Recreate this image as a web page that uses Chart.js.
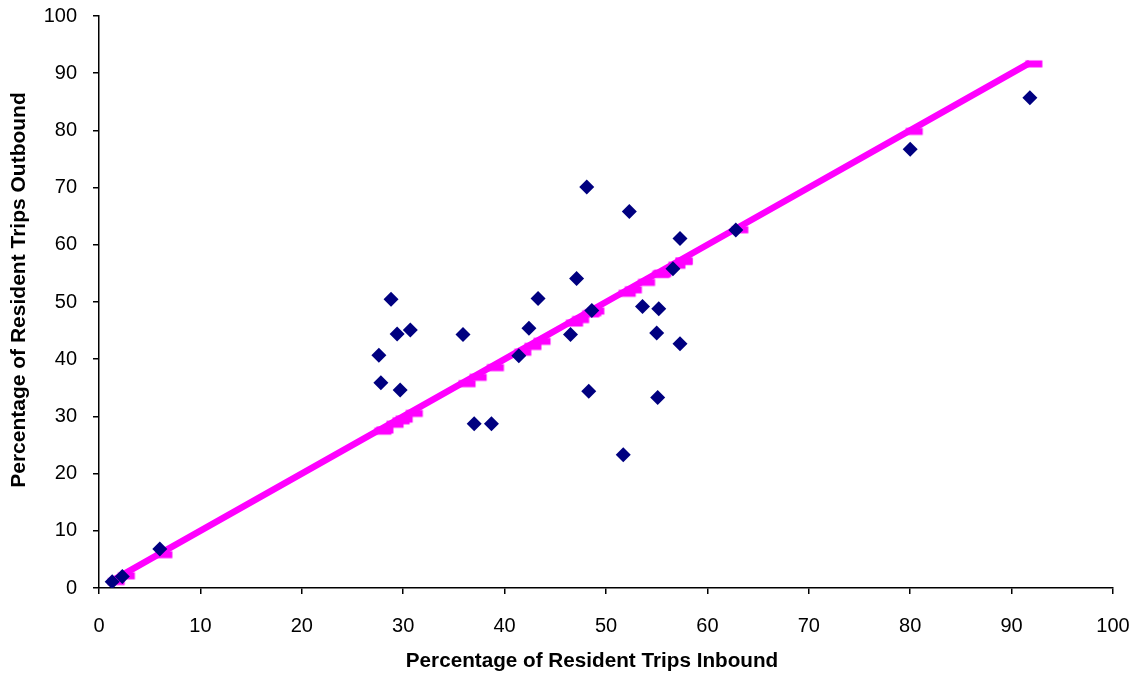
<!DOCTYPE html>
<html>
<head>
<meta charset="utf-8">
<title>Resident Trips Inbound vs Outbound</title>
<script src="https://cdn.jsdelivr.net/npm/chart.js@4/dist/chart.umd.min.js"></script>
<style>
  html, body { margin: 0; padding: 0; background: #fff; }
  #wrap { width: 1143px; height: 677px; }
</style>
</head>
<body>
<div id="wrap"><canvas id="tripChart"></canvas></div>
<script>
// Observed points (percent)
const inbound = [1.3, 2.3, 6.0, 28.8, 29.4, 30.7, 35.9, 27.6, 27.8, 29.7, 37.0, 38.7,
  48.1, 52.3, 57.3, 56.6, 47.1, 43.3, 48.6, 53.6, 55.2, 42.4, 46.5, 55.0, 57.3,
  41.4, 48.3, 55.1, 51.7, 62.8, 80.0, 91.8];
const outbound = [1.1, 2.0, 6.8, 50.5, 44.4, 45.1, 44.3, 40.7, 35.9, 34.6, 28.7, 28.7,
  70.1, 65.8, 61.1, 55.8, 54.1, 50.6, 48.5, 49.2, 48.8, 45.4, 44.3, 44.6, 42.7,
  40.6, 34.4, 33.3, 23.3, 62.6, 76.7, 85.7];

// Equal-share line (inbound = outbound)
const lineInbound = [1.3, 2.3, 6.0, 27.6, 27.8, 28.8, 29.4, 29.7, 30.7, 35.9, 37.0, 38.7,
  41.4, 42.4, 43.3, 46.5, 47.1, 48.1, 48.3, 48.6, 51.7, 52.3, 53.6, 55.0, 55.1,
  55.2, 56.6, 57.3, 57.3, 62.8, 80.0, 91.8];
const lineOutbound = [1.3, 2.3, 6.0, 27.6, 27.8, 28.8, 29.4, 29.7, 30.7, 35.9, 37.0, 38.7,
  41.4, 42.4, 43.3, 46.5, 47.1, 48.1, 48.3, 48.6, 51.7, 52.3, 53.6, 55.0, 55.1,
  55.2, 56.6, 57.3, 57.3, 62.8, 80.0, 91.8];

const xTicks = [0, 10, 20, 30, 40, 50, 60, 70, 80, 90, 100];
const yTicks = [0, 10, 20, 30, 40, 50, 60, 70, 80, 90, 100];

const xTitle = "Percentage of Resident Trips Inbound";
const yTitle = "Percentage of Resident Trips Outbound";

const FONT = "'Liberation Sans', Arial, sans-serif";

// Excel-ish dash marker, sits a little below/right of the point
function dashMarker() {
  const c = document.createElement("canvas");
  c.width = 34;
  c.height = 18;
  const g = c.getContext("2d");
  g.fillStyle = "#ff00ff";
  g.fillRect(17 + 4 - 8.5, 9 + 1 - 3.5, 17, 7);
  return c;
}

// axis titles drawn by hand so they sit where Excel put them
const titlePlugin = {
  id: "titles",
  afterDraw(chart) {
    const ctx = chart.ctx;
    ctx.save();
    ctx.fillStyle = "#000";
    ctx.font = "bold 20.7px " + FONT;
    ctx.textAlign = "center";
    ctx.textBaseline = "middle";
    ctx.fillText(xTitle, 592, 661);
    ctx.font = "bold 21px " + FONT;
    ctx.translate(19, 290);
    ctx.rotate(-Math.PI / 2);
    ctx.fillText(yTitle, 0, 0);
    ctx.restore();
  }
};

function toPoints(xs, ys) {
  return xs.map((x, i) => ({ x: x, y: ys[i] }));
}

function axis(ticks, extra) {
  return Object.assign({
    type: "linear",
    min: ticks[0],
    max: ticks[ticks.length - 1],
    afterBuildTicks: s => { s.ticks = ticks.map(v => ({ value: v })); },
    grid: { drawOnChartArea: false, drawTicks: true, tickLength: 6, color: "#000", lineWidth: 1.5 },
    border: { display: true, color: "#000", width: 1.5 }
  }, extra);
}

const ctx = document.getElementById("tripChart").getContext("2d");
new Chart(ctx, {
  type: "scatter",
  data: {
    datasets: [
      {
        label: "Observed",
        data: toPoints(inbound, outbound),
        pointStyle: "rectRot",
        pointRadius: 7.5,
        pointBackgroundColor: "#000080",
        pointBorderColor: "#000080",
        pointBorderWidth: 0,
        showLine: false
      },
      {
        label: "Equal share",
        data: toPoints(lineInbound, lineOutbound),
        showLine: true,
        borderColor: "#ff00ff",
        borderWidth: 6.5,
        pointStyle: dashMarker(),
        pointRadius: 8
      }
    ]
  },
  options: {
    responsive: true,
    maintainAspectRatio: false,
    animation: false,
    layout: { padding: { top: 16, right: 30, left: 0, bottom: 0 } },
    plugins: {
      legend: { display: false },
      tooltip: { enabled: false }
    },
    scales: {
      x: axis(xTicks, {
        position: "bottom",
        // fixed size, no extra room for the end labels
        afterFit: s => { s.height = 89; s.paddingLeft = 0; s.paddingRight = 0; },
        ticks: { color: "#000", font: { family: FONT, size: 20 }, padding: 20, maxRotation: 0 }
      }),
      y: axis(yTicks, {
        position: "left",
        afterFit: s => { s.width = 99; s.paddingTop = 0; s.paddingBottom = 0; },
        ticks: { color: "#000", font: { family: FONT, size: 20 }, padding: 16 }
      })
    }
  },
  plugins: [titlePlugin]
});
</script>
</body>
</html>
